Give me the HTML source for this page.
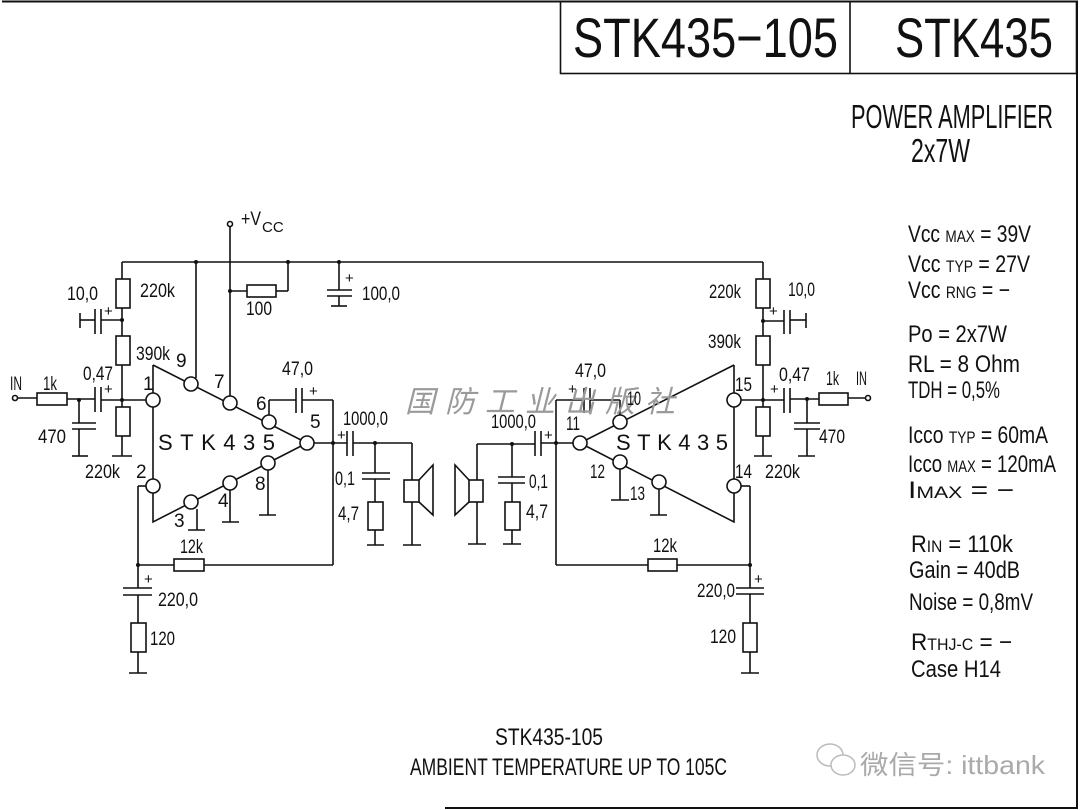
<!DOCTYPE html>
<html><head><meta charset="utf-8"><style>
html,body{margin:0;padding:0;background:#fff;}
svg{display:block;}
text{font-family:"Liberation Sans",sans-serif;fill:#111;}
</style></head><body>
<svg width="1080" height="810" viewBox="0 0 1080 810" xmlns="http://www.w3.org/2000/svg">
<g stroke="#111" stroke-width="1.6" fill="none">
<!-- borders -->
<line x1="2" y1="1.5" x2="1078" y2="1.5" stroke-width="2"/>
<line x1="1077" y1="1" x2="1077" y2="808" stroke-width="2"/>
<line x1="445" y1="808" x2="1078" y2="808" stroke-width="2"/>
<rect x="560.5" y="1.5" width="516" height="72" />
<line x1="850" y1="1.5" x2="850" y2="73"/>

<!-- ===== LEFT ===== -->
<line x1="122" y1="262" x2="763" y2="262"/>
<line x1="122" y1="262" x2="122" y2="279"/>
<rect x="116" y="279" width="14" height="29" fill="#fff"/>
<line x1="122" y1="308" x2="122" y2="336"/>
<line x1="122" y1="320" x2="101" y2="320"/>
<line x1="101" y1="309" x2="101" y2="334"/>
<line x1="95" y1="309" x2="95" y2="334"/>
<line x1="95" y1="320" x2="80" y2="320"/>
<line x1="80" y1="313" x2="80" y2="328"/>
<rect x="116" y="336" width="14" height="29" fill="#fff"/>
<line x1="122" y1="365" x2="122" y2="407"/>
<rect x="116" y="407" width="14" height="29" fill="#fff"/>
<line x1="122" y1="436" x2="122" y2="456"/>
<line x1="112" y1="456" x2="132" y2="456"/>
<!-- input -->
<circle cx="15" cy="398" r="2.5"/>
<line x1="18" y1="398" x2="37" y2="398"/>
<rect x="37" y="393" width="30" height="12" fill="#fff"/>
<line x1="67" y1="399" x2="95" y2="399"/>
<line x1="95" y1="387" x2="95" y2="412"/><line x1="101" y1="387" x2="101" y2="412"/>
<line x1="101" y1="400" x2="146" y2="400"/>
<line x1="79" y1="400" x2="79" y2="423"/>
<line x1="72" y1="423" x2="96" y2="423"/><line x1="72" y1="429" x2="96" y2="429"/>
<line x1="79" y1="429" x2="79" y2="456"/>
<line x1="72" y1="456" x2="88" y2="456"/>
<!-- IC -->
<polyline points="153,365 153,522 307,443 153,365"/>
<g fill="#fff">
<circle cx="153" cy="400" r="7"/><circle cx="153" cy="486" r="7"/>
<circle cx="191" cy="384" r="7"/><circle cx="230" cy="403" r="7"/>
<circle cx="269" cy="422" r="7"/><circle cx="307" cy="443" r="7"/>
<circle cx="268" cy="463" r="7"/><circle cx="230" cy="483" r="7"/>
<circle cx="191" cy="502" r="7"/>
</g>
<line x1="196" y1="378" x2="196" y2="262"/>
<line x1="230" y1="396" x2="230" y2="226"/>
<circle cx="230" cy="224" r="2.5"/>
<line x1="230" y1="291" x2="247" y2="291"/>
<rect x="247" y="285" width="29" height="12" fill="#fff"/>
<line x1="276" y1="291" x2="288" y2="291"/><line x1="288" y1="291" x2="288" y2="262"/>
<line x1="339" y1="262" x2="339" y2="290"/>
<line x1="327" y1="290" x2="352" y2="290"/><line x1="327" y1="296" x2="352" y2="296"/>
<line x1="339" y1="296" x2="339" y2="306"/><line x1="331" y1="306" x2="347" y2="306"/>
<!-- 47 cap -->
<line x1="269" y1="415" x2="269" y2="400"/>
<line x1="269" y1="400" x2="296" y2="400"/>
<line x1="296" y1="388" x2="296" y2="413"/><line x1="302" y1="388" x2="302" y2="413"/>
<line x1="302" y1="400" x2="333" y2="400"/><line x1="333" y1="400" x2="333" y2="565"/>
<line x1="314" y1="443" x2="347" y2="443"/>
<line x1="347" y1="431" x2="347" y2="456"/><line x1="353" y1="431" x2="353" y2="456"/>
<line x1="353" y1="443" x2="412" y2="443"/><line x1="412" y1="443" x2="412" y2="480"/>
<line x1="375" y1="443" x2="375" y2="473"/>
<line x1="362" y1="473" x2="390" y2="473"/><line x1="362" y1="479" x2="390" y2="479"/>
<line x1="375" y1="479" x2="375" y2="502"/>
<rect x="368" y="502" width="15" height="28" fill="#fff"/>
<line x1="375" y1="530" x2="375" y2="545"/><line x1="367" y1="545" x2="384" y2="545"/>
<rect x="404" y="480" width="15" height="22" fill="#fff"/>
<polyline points="419,480 433,465 433,515 419,502"/>
<line x1="412" y1="502" x2="412" y2="545"/><line x1="403" y1="545" x2="421" y2="545"/>
<!-- pin grounds -->
<line x1="197" y1="509" x2="197" y2="530"/><line x1="188" y1="530" x2="205" y2="530"/>
<line x1="230" y1="490" x2="230" y2="522"/><line x1="222" y1="522" x2="239" y2="522"/>
<line x1="268" y1="470" x2="268" y2="515"/><line x1="259" y1="515" x2="276" y2="515"/>
<!-- pin2 feedback -->
<line x1="146" y1="486" x2="138" y2="486"/><line x1="138" y1="486" x2="138" y2="588"/>
<line x1="138" y1="565" x2="174" y2="565"/>
<rect x="174" y="559" width="30" height="12" fill="#fff"/>
<line x1="204" y1="565" x2="333" y2="565"/>
<line x1="123" y1="588" x2="152" y2="588"/><line x1="123" y1="595" x2="152" y2="595"/>
<line x1="138" y1="595" x2="138" y2="623"/>
<rect x="131" y="623" width="15" height="29" fill="#fff"/>
<line x1="138" y1="652" x2="138" y2="673"/><line x1="129" y1="673" x2="147" y2="673"/>

<!-- ===== RIGHT ===== -->
<line x1="763" y1="262" x2="763" y2="279"/>
<rect x="756" y="279" width="14" height="29" fill="#fff"/>
<line x1="763" y1="308" x2="763" y2="336"/>
<line x1="763" y1="321" x2="784" y2="321"/>
<line x1="784" y1="310" x2="784" y2="334"/><line x1="790" y1="310" x2="790" y2="334"/>
<line x1="790" y1="320" x2="806" y2="320"/><line x1="806" y1="313" x2="806" y2="328"/>
<rect x="756" y="336" width="14" height="29" fill="#fff"/>
<line x1="763" y1="365" x2="763" y2="407"/>
<rect x="756" y="407" width="14" height="29" fill="#fff"/>
<line x1="763" y1="436" x2="763" y2="456"/><line x1="754" y1="456" x2="772" y2="456"/>
<line x1="741" y1="400" x2="784" y2="400"/>
<line x1="784" y1="388" x2="784" y2="413"/><line x1="790" y1="388" x2="790" y2="413"/>
<line x1="790" y1="399" x2="819" y2="399"/>
<rect x="819" y="393" width="29" height="12" fill="#fff"/>
<line x1="848" y1="398" x2="866" y2="398"/><circle cx="868" cy="398" r="2.5"/>
<line x1="807" y1="399" x2="807" y2="423"/>
<line x1="794" y1="423" x2="820" y2="423"/><line x1="794" y1="429" x2="820" y2="429"/>
<line x1="807" y1="429" x2="807" y2="456"/><line x1="798" y1="456" x2="815" y2="456"/>
<!-- IC -->
<polyline points="734,365 734,522 580,443 734,365"/>
<g fill="#fff">
<circle cx="734" cy="400" r="7"/><circle cx="734" cy="486" r="7"/>
<circle cx="620" cy="422" r="7"/><circle cx="580" cy="443" r="7"/>
<circle cx="620" cy="462" r="7"/><circle cx="659" cy="482" r="7"/>
</g>
<line x1="620" y1="415" x2="620" y2="400"/>
<line x1="620" y1="400" x2="590" y2="400"/>
<line x1="584" y1="388" x2="584" y2="413"/><line x1="590" y1="388" x2="590" y2="413"/>
<line x1="584" y1="400" x2="556" y2="400"/><line x1="556" y1="400" x2="556" y2="565"/>
<line x1="573" y1="443" x2="541" y2="443"/>
<line x1="535" y1="431" x2="535" y2="456"/><line x1="541" y1="431" x2="541" y2="456"/>
<line x1="535" y1="444" x2="477" y2="444"/><line x1="477" y1="444" x2="477" y2="480"/>
<line x1="512" y1="444" x2="512" y2="477"/>
<line x1="498" y1="477" x2="525" y2="477"/><line x1="498" y1="483" x2="525" y2="483"/>
<line x1="512" y1="483" x2="512" y2="502"/>
<rect x="505" y="502" width="15" height="28" fill="#fff"/>
<line x1="512" y1="530" x2="512" y2="544"/><line x1="503" y1="544" x2="521" y2="544"/>
<rect x="469" y="480" width="14" height="22" fill="#fff"/>
<polyline points="469,480 455,465 455,515 469,502"/>
<line x1="477" y1="502" x2="477" y2="544"/><line x1="468" y1="544" x2="486" y2="544"/>
<line x1="620" y1="469" x2="620" y2="500"/><line x1="611" y1="500" x2="629" y2="500"/>
<line x1="659" y1="489" x2="659" y2="515"/><line x1="650" y1="515" x2="667" y2="515"/>
<line x1="741" y1="486" x2="750" y2="486"/><line x1="750" y1="486" x2="750" y2="588"/>
<line x1="556" y1="565" x2="648" y2="565"/>
<rect x="648" y="559" width="29" height="12" fill="#fff"/>
<line x1="677" y1="565" x2="750" y2="565"/>
<line x1="736" y1="588" x2="764" y2="588"/><line x1="736" y1="594" x2="764" y2="594"/>
<line x1="750" y1="594" x2="750" y2="623"/>
<rect x="743" y="623" width="14" height="29" fill="#fff"/>
<line x1="750" y1="652" x2="750" y2="673"/><line x1="741" y1="673" x2="759" y2="673"/>
</g>
<!-- junction dots -->
<g fill="#111">
<circle cx="196" cy="262" r="2"/><circle cx="288" cy="262" r="2"/><circle cx="339" cy="262" r="2"/>
<circle cx="230" cy="291" r="2"/><circle cx="122" cy="320" r="2"/><circle cx="122" cy="400" r="2"/>
<circle cx="79" cy="400" r="2"/><circle cx="333" cy="443" r="2"/><circle cx="375" cy="443" r="2"/>
<circle cx="138" cy="565" r="2"/><circle cx="763" cy="321" r="2"/><circle cx="763" cy="400" r="2"/>
<circle cx="807" cy="399" r="2"/><circle cx="556" cy="443" r="2"/><circle cx="512" cy="444" r="2"/>
<circle cx="750" cy="565" r="2"/>
</g>

<!-- watermark -->
<text x="405" y="412" font-size="30" font-style="italic" textLength="270" lengthAdjust="spacing" style="fill:#9a9a9a;font-family:'Liberation Sans','Noto Sans CJK SC',sans-serif">国防工业出版社</text>

<!-- Titles -->
<text x="573" y="57" font-size="56" textLength="265" lengthAdjust="spacingAndGlyphs" style="font-weight:normal">STK435−105</text>
<text x="895" y="57" font-size="56" textLength="158" lengthAdjust="spacingAndGlyphs">STK435</text>
<text x="851" y="128" font-size="33" textLength="202" lengthAdjust="spacingAndGlyphs">POWER AMPLIFIER</text>
<text x="911" y="162" font-size="33" textLength="59" lengthAdjust="spacingAndGlyphs">2x7W</text>

<g font-size="24">
<text x="908" y="242" textLength="123" lengthAdjust="spacingAndGlyphs">Vcc <tspan font-size="17">MAX</tspan> = 39V</text>
<text x="908" y="272" textLength="122" lengthAdjust="spacingAndGlyphs">Vcc <tspan font-size="17">TYP</tspan>  = 27V</text>
<text x="908" y="298" textLength="102" lengthAdjust="spacingAndGlyphs">Vcc <tspan font-size="17">RNG</tspan> = −</text>
<text x="908" y="342" textLength="99" lengthAdjust="spacingAndGlyphs">Po  = 2x7W</text>
<text x="908" y="372" textLength="112" lengthAdjust="spacingAndGlyphs">RL  = 8  Ohm</text>
<text x="908" y="398" textLength="92" lengthAdjust="spacingAndGlyphs">TDH = 0,5%</text>
<text x="908" y="443" textLength="140" lengthAdjust="spacingAndGlyphs">Icco <tspan font-size="17">TYP</tspan> = 60mA</text>
<text x="908" y="472" textLength="148" lengthAdjust="spacingAndGlyphs">Icco <tspan font-size="17">MAX</tspan> = 120mA</text>
<text x="908" y="498" textLength="106" lengthAdjust="spacingAndGlyphs">I<tspan font-size="17">MAX</tspan>  =     −</text>
<text x="911" y="552" textLength="102" lengthAdjust="spacingAndGlyphs">R<tspan font-size="17">IN</tspan>   = 110k</text>
<text x="909" y="578" textLength="111" lengthAdjust="spacingAndGlyphs">Gain  = 40dB</text>
<text x="909" y="610" textLength="124" lengthAdjust="spacingAndGlyphs">Noise = 0,8mV</text>
<text x="911" y="650" textLength="101" lengthAdjust="spacingAndGlyphs">R<tspan font-size="17">THJ-C</tspan> =  −</text>
<text x="911" y="677" textLength="90" lengthAdjust="spacingAndGlyphs">Case  H14</text>
</g>

<text x="495" y="745" font-size="24" textLength="108" lengthAdjust="spacingAndGlyphs">STK435-105</text>
<text x="410" y="775" font-size="24" textLength="317" lengthAdjust="spacingAndGlyphs">AMBIENT TEMPERATURE UP TO 105C</text>

<!-- wechat watermark -->
<g stroke="#bbb" stroke-width="1.5" fill="none">
<ellipse cx="830" cy="755" rx="13" ry="11"/><ellipse cx="843" cy="765" rx="12" ry="10" fill="#fff"/>
</g>
<text x="860" y="774" font-size="26" textLength="185" lengthAdjust="spacingAndGlyphs" style="fill:#aaa;font-family:'Liberation Sans','Noto Sans CJK SC',sans-serif">微信号: ittbank</text>

<!-- component labels -->
<g font-size="19">
<text x="241" y="225" textLength="20" lengthAdjust="spacingAndGlyphs">+V</text><text x="262" y="232" font-size="15">CC</text>
<text x="67" y="300" textLength="31" lengthAdjust="spacingAndGlyphs">10,0</text>
<text x="140" y="297" textLength="35" lengthAdjust="spacingAndGlyphs">220k</text>
<text x="246" y="315" textLength="26" lengthAdjust="spacingAndGlyphs">100</text>
<text x="362" y="300" textLength="38" lengthAdjust="spacingAndGlyphs">100,0</text>
<text x="136" y="360" textLength="34" lengthAdjust="spacingAndGlyphs">390k</text>
<text x="176" y="367">9</text><text x="214" y="388">7</text><text x="256" y="410">6</text><text x="310" y="428">5</text>
<text x="282" y="375" textLength="31" lengthAdjust="spacingAndGlyphs">47,0</text>
<text x="343" y="425" textLength="45" lengthAdjust="spacingAndGlyphs">1000,0</text>
<text x="10" y="390" textLength="12" lengthAdjust="spacingAndGlyphs">IN</text>
<text x="43" y="390" textLength="14" lengthAdjust="spacingAndGlyphs">1k</text>
<text x="83" y="380" textLength="30" lengthAdjust="spacingAndGlyphs">0,47</text>
<text x="143" y="390">1</text>
<text x="38" y="443" textLength="28" lengthAdjust="spacingAndGlyphs">470</text>
<text x="85" y="478" textLength="35" lengthAdjust="spacingAndGlyphs">220k</text>
<text x="136" y="478">2</text>
<text x="255" y="490">8</text><text x="218" y="507">4</text><text x="174" y="527">3</text>
<text x="335" y="485" textLength="20" lengthAdjust="spacingAndGlyphs">0,1</text>
<text x="338" y="520" textLength="21" lengthAdjust="spacingAndGlyphs">4,7</text>
<text x="180" y="553" textLength="23" lengthAdjust="spacingAndGlyphs">12k</text>
<text x="158" y="606" textLength="40" lengthAdjust="spacingAndGlyphs">220,0</text>
<text x="150" y="645" textLength="25" lengthAdjust="spacingAndGlyphs">120</text>
<text x="158" y="450" font-size="22" textLength="117" lengthAdjust="spacing">STK435</text>

<text x="709" y="298" textLength="32" lengthAdjust="spacingAndGlyphs">220k</text>
<text x="788" y="296" textLength="27" lengthAdjust="spacingAndGlyphs">10,0</text>
<text x="708" y="348" textLength="33" lengthAdjust="spacingAndGlyphs">390k</text>
<text x="779" y="381" textLength="31" lengthAdjust="spacingAndGlyphs">0,47</text>
<text x="826" y="385" textLength="13" lengthAdjust="spacingAndGlyphs">1k</text>
<text x="856" y="385" textLength="11" lengthAdjust="spacingAndGlyphs">IN</text>
<text x="735" y="391" textLength="17" lengthAdjust="spacingAndGlyphs">15</text>
<text x="575" y="377" textLength="31" lengthAdjust="spacingAndGlyphs">47,0</text>
<text x="627" y="405" textLength="14" lengthAdjust="spacingAndGlyphs">10</text>
<text x="491" y="428" textLength="45" lengthAdjust="spacingAndGlyphs">1000,0</text>
<text x="566" y="430" textLength="14" lengthAdjust="spacingAndGlyphs">11</text>
<text x="616" y="450" font-size="22" textLength="112" lengthAdjust="spacing">STK435</text>
<text x="590" y="478" textLength="15" lengthAdjust="spacingAndGlyphs">12</text>
<text x="630" y="500" textLength="15" lengthAdjust="spacingAndGlyphs">13</text>
<text x="735" y="478" textLength="17" lengthAdjust="spacingAndGlyphs">14</text>
<text x="765" y="478" textLength="35" lengthAdjust="spacingAndGlyphs">220k</text>
<text x="819" y="443" textLength="26" lengthAdjust="spacingAndGlyphs">470</text>
<text x="529" y="488" textLength="19" lengthAdjust="spacingAndGlyphs">0,1</text>
<text x="526" y="518" textLength="22" lengthAdjust="spacingAndGlyphs">4,7</text>
<text x="653" y="552" textLength="24" lengthAdjust="spacingAndGlyphs">12k</text>
<text x="697" y="597" textLength="38" lengthAdjust="spacingAndGlyphs">220,0</text>
<text x="710" y="643" textLength="26" lengthAdjust="spacingAndGlyphs">120</text>
</g>
<!-- plus signs -->
<g font-size="15">
<text x="104" y="316">+</text><text x="104" y="394">+</text><text x="345" y="283">+</text>
<text x="309" y="396">+</text><text x="337" y="440">+</text><text x="144" y="584">+</text>
<text x="769" y="316">+</text><text x="770" y="394">+</text><text x="568" y="394">+</text>
<text x="544" y="440">+</text><text x="754" y="584">+</text>
</g>
</svg>
</body></html>
